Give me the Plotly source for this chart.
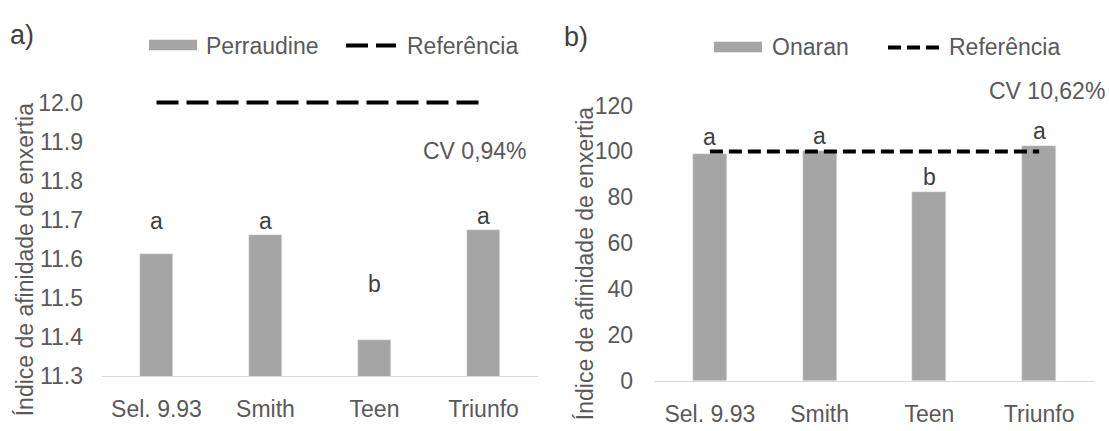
import plotly.graph_objects as go

# ---------------- data ----------------
categories = ["Sel. 9.93", "Smith", "Teen", "Triunfo"]

perraudine = [11.614, 11.661, 11.394, 11.674]
ref_a = [12.0, 12.0, 12.0, 12.0]
letters_a = ["a", "a", "b", "a"]
letters_a_y = [11.697, 11.697, 11.536, 11.71]
yticks_a = [11.3, 11.4, 11.5, 11.6, 11.7, 11.8, 11.9, 12.0]

onaran = [98.9, 100.2, 82.5, 102.3]
ref_b = [100, 100, 100, 100]
letters_b = ["a", "a", "b", "a"]
letters_b_y = [106.3, 106.7, 89.0, 108.8]
yticks_b = [0, 20, 40, 60, 80, 100, 120]

cv_a = "CV 0,94%"
cv_b = "CV 10,62%"
ytitle = "Índice de afinidade de enxertia"

# ---------------- layout helpers ----------------
W, H = 1109, 431
FONT = "Liberation Sans, Arial, sans-serif"
TXT = "#595959"
DARK = "#404040"
BAR = "#A5A5A5"


def px(x):
    return x / W


def py(y):
    return 1 - y / H


fig = go.Figure()

# panel a
fig.add_trace(go.Bar(x=categories, y=perraudine, marker_color=BAR, width=0.31,
                     name="Perraudine", xaxis="x", yaxis="y", showlegend=False))
fig.add_trace(go.Scatter(x=categories, y=ref_a, mode="lines", name="Referência",
                         line=dict(color="black", width=4, dash="22px,8px"),
                         xaxis="x", yaxis="y", showlegend=False))
# panel b
fig.add_trace(go.Bar(x=categories, y=onaran, marker_color=BAR, width=0.31,
                     name="Onaran", xaxis="x2", yaxis="y2", showlegend=False))
fig.add_trace(go.Scatter(x=categories, y=ref_b, mode="lines", name="Referência",
                         line=dict(color="black", width=4, dash="13px,6px"),
                         xaxis="x2", yaxis="y2", showlegend=False))

annotations = []
for c, t, yv in zip(categories, letters_a, letters_a_y):
    annotations.append(dict(x=c, y=yv, xref="x", yref="y", text=t, showarrow=False,
                            font=dict(size=23, color=DARK, family=FONT)))
for c, t, yv in zip(categories, letters_b, letters_b_y):
    annotations.append(dict(x=c, y=yv, xref="x2", yref="y2", text=t, showarrow=False,
                            font=dict(size=23, color=DARK, family=FONT)))

def ptext(x, y, text, xanchor="left", size=23, color=TXT, angle=0):
    annotations.append(dict(x=px(x), y=py(y), xref="paper", yref="paper", text=text,
                            showarrow=False, xanchor=xanchor, yanchor="middle",
                            textangle=angle,
                            font=dict(size=size, color=color, family=FONT)))

# panel labels
ptext(8, 35, "a)", color=DARK, size=27)
ptext(562, 37, "b)", color=DARK, size=27)
# CV
ptext(529, 155, cv_a, xanchor="right")
ptext(1107, 93, cv_b, xanchor="right")
# axis titles
ptext(25, 268, ytitle, xanchor="center", angle=-90)
ptext(585, 272, ytitle, xanchor="center", angle=-90)
# legend texts
ptext(204, 46, "Perraudine")
ptext(405, 46, "Referência")
ptext(770, 48, "Onaran")
ptext(947, 48, "Referência")

shapes = [
    dict(type="rect", xref="paper", yref="paper", x0=px(149), x1=px(197),
         y0=py(51), y1=py(40), fillcolor=BAR, line=dict(width=0)),
    dict(type="line", xref="paper", yref="paper", x0=px(346), x1=px(396),
         y0=py(46), y1=py(46), line=dict(color="black", width=4, dash="22px,8px")),
    dict(type="rect", xref="paper", yref="paper", x0=px(714), x1=px(762),
         y0=py(53), y1=py(42), fillcolor=BAR, line=dict(width=0)),
    dict(type="line", xref="paper", yref="paper", x0=px(888), x1=px(943),
         y0=py(48), y1=py(48), line=dict(color="black", width=4, dash="13px,6px")),
]

xaxis_common = dict(type="category", range=[-0.5, 3.5], showline=True,
                    linecolor="#D9D9D9", linewidth=1, showgrid=False, zeroline=False,
                    ticks="", tickfont=dict(size=23, color=TXT, family=FONT),
                    ticklabelstandoff=12, fixedrange=True)
yaxis_common = dict(showline=False, showgrid=False, zeroline=False, ticks="",
                    tickfont=dict(size=23, color=TXT, family=FONT), fixedrange=True)

fig.update_layout(
    width=W, height=H,
    margin=dict(l=0, r=0, t=0, b=0),
    paper_bgcolor="white", plot_bgcolor="white",
    showlegend=False,
    bargap=0,
    xaxis=dict(domain=[px(102), px(538)], anchor="y", **xaxis_common),
    yaxis=dict(domain=[py(388), py(84.8)], anchor="x", range=[11.3, 12.05],
               tickvals=yticks_a, tickformat=".1f", ticklabelstandoff=18,
               **yaxis_common),
    xaxis2=dict(domain=[px(655), px(1094)], anchor="y2", **xaxis_common),
    yaxis2=dict(domain=[py(393), py(96.1)], anchor="x2", range=[0, 125],
                tickvals=yticks_b, ticklabelstandoff=21, **yaxis_common),
    annotations=annotations,
    shapes=shapes,
)

fig.write_html("out.html")
